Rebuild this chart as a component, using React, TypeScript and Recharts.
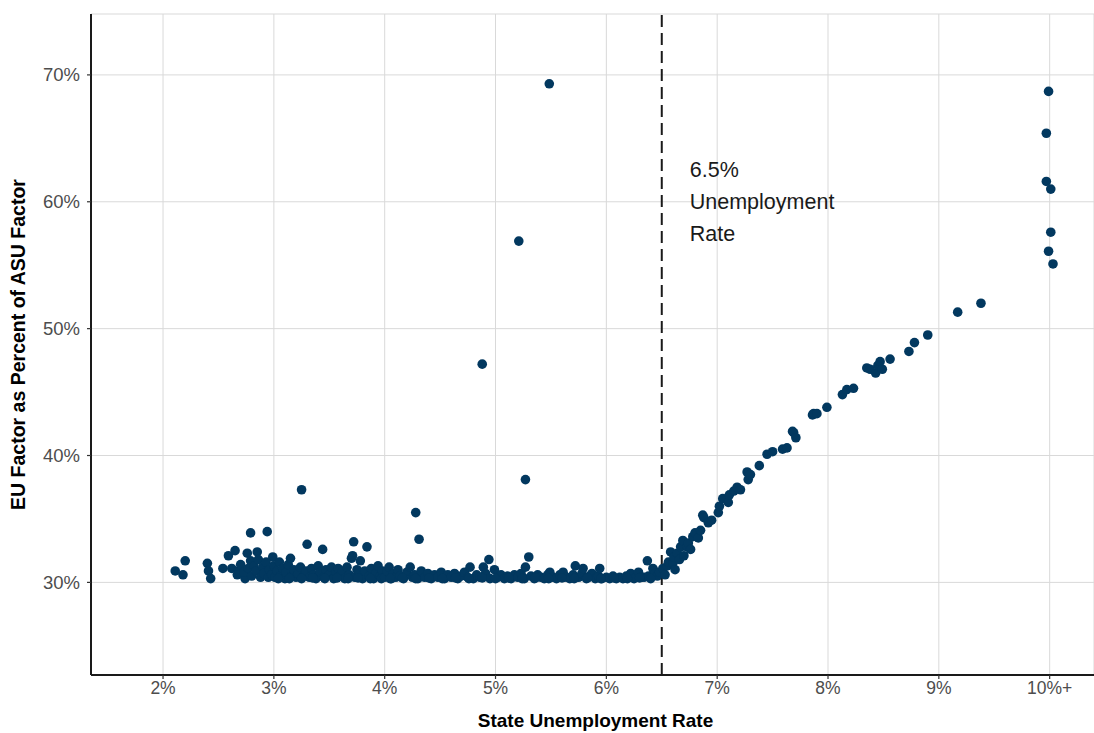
import React from 'react';
import {
  ScatterChart,
  Scatter,
  XAxis,
  YAxis,
  CartesianGrid,
  ReferenceLine,
  Label,
} from 'recharts';

// [state unemployment rate %, EU factor as % of ASU factor]
const lowRateCluster: [number, number][] = [
  [2.11, 30.9], [2.2, 31.7], [2.18, 30.6], [2.4, 31.5], [2.41, 30.9], [2.43, 30.3],
  [2.54, 31.1], [2.59, 32.1], [2.65, 32.5], [2.62, 31.1], [2.68, 30.9], [2.67, 30.6],
  [2.76, 32.3], [2.79, 31.7], [2.85, 32.4], [2.74, 30.3], [2.79, 33.9], [2.94, 34.0],
  [2.99, 32.0], [2.7, 31.4], [2.73, 30.8], [2.77, 31.1], [2.8, 30.5], [2.82, 31.3],
  [2.84, 30.9], [2.86, 31.8], [2.88, 30.4], [2.9, 31.2], [2.91, 30.7], [2.93, 31.6],
  [2.95, 30.4], [2.96, 31.0], [2.98, 30.6], [3.0, 31.3], [3.01, 30.4], [3.03, 30.9],
  [3.05, 31.6], [3.06, 30.5], [3.08, 31.1], [3.1, 30.3], [3.11, 30.8], [3.13, 31.4],
  [3.15, 31.9], [3.16, 30.5], [3.18, 31.0], [3.2, 30.4], [3.22, 30.7], [3.24, 31.2],
  [3.27, 30.5], [3.29, 30.9], [3.3, 33.0], [3.32, 30.4], [3.34, 31.1], [3.36, 30.6],
  [3.38, 30.3], [3.4, 31.3], [3.42, 30.8], [3.44, 32.6], [3.45, 30.4], [3.47, 31.0],
  [3.5, 30.6], [3.52, 31.2], [3.54, 30.3], [3.56, 30.8], [3.58, 31.1], [3.6, 30.5],
  [3.62, 30.9], [3.64, 30.3], [3.66, 31.2], [3.68, 30.6], [3.7, 31.9], [3.71, 32.1],
  [3.72, 33.2], [3.73, 30.4], [3.75, 31.0], [3.77, 30.7], [3.78, 31.7], [3.8, 30.3],
  [3.82, 30.9], [3.84, 32.8], [3.86, 30.5], [3.88, 31.1], [3.9, 30.3], [3.92, 30.7],
  [3.94, 31.3], [3.96, 30.5], [3.98, 30.9], [3.04, 30.3], [3.14, 30.3], [3.25, 30.3],
  [3.35, 30.35], [3.46, 30.3], [3.57, 30.35], [3.67, 30.3], [3.76, 30.35], [3.87, 30.3],
  [3.97, 30.3],
];

const flatBand: [number, number][] = [
  [4.0, 30.4], [4.02, 30.9], [4.04, 31.2], [4.06, 30.3], [4.08, 30.7], [4.1, 30.4],
  [4.12, 31.0], [4.14, 30.5], [4.17, 30.3], [4.2, 30.8], [4.23, 31.2], [4.25, 30.4],
  [4.27, 30.6], [4.3, 30.3], [4.33, 30.9], [4.36, 30.4], [4.39, 30.7], [4.42, 30.3],
  [4.45, 30.6], [4.48, 30.4], [4.51, 30.8], [4.54, 30.3], [4.57, 30.6], [4.6, 30.4],
  [4.63, 30.7], [4.66, 30.3], [4.69, 30.5], [4.72, 30.8], [4.75, 30.4], [4.77, 31.2],
  [4.8, 30.3], [4.83, 30.6], [4.86, 30.4], [4.89, 31.2], [4.91, 30.7], [4.94, 31.8],
  [4.95, 30.3], [4.99, 31.0], [5.02, 30.4], [5.05, 30.6], [5.08, 30.3], [5.11, 30.5],
  [5.14, 30.3], [5.17, 30.6], [5.2, 30.4], [5.23, 30.7], [5.26, 30.3], [5.27, 31.2],
  [5.3, 32.0], [5.32, 30.5], [5.35, 30.3], [5.38, 30.6], [5.41, 30.4], [5.44, 30.3],
  [5.47, 30.6], [5.49, 30.8], [5.52, 30.4], [5.55, 30.3], [5.58, 30.6], [5.61, 30.8],
  [5.64, 30.4], [5.67, 30.3], [5.7, 30.6], [5.72, 31.3], [5.75, 30.4], [5.78, 30.7],
  [5.79, 31.1], [5.82, 30.3], [5.85, 30.5], [5.87, 30.7], [5.9, 30.3], [5.93, 30.5],
  [5.94, 31.1], [5.96, 30.3], [6.0, 30.4], [6.03, 30.3], [6.06, 30.5], [6.09, 30.3],
  [6.12, 30.4], [6.15, 30.3], [6.18, 30.5], [6.22, 30.7], [6.25, 30.3], [6.29, 30.8],
  [6.31, 30.4], [6.34, 30.4], [6.37, 31.7], [6.38, 30.5], [6.42, 31.1], [6.43, 30.9],
  [6.44, 30.7], [6.46, 30.5], [4.05, 30.3], [4.16, 30.35], [4.28, 30.3], [4.4, 30.35],
  [4.52, 30.3], [4.64, 30.35], [4.76, 30.3], [4.88, 30.35], [5.0, 30.3], [5.12, 30.35],
  [5.24, 30.3], [5.36, 30.35], [5.48, 30.3], [5.6, 30.35], [5.71, 30.3], [5.83, 30.35],
  [5.95, 30.3], [6.07, 30.35], [6.19, 30.3], [6.3, 30.35], [6.4, 30.3],
];

const outlierPoints: [number, number][] = [
  [5.485, 69.3], [5.21, 56.9], [4.88, 47.2], [5.27, 38.1], [3.25, 37.3],
  [4.28, 35.5], [4.31, 33.4],
];

const risingPoints: [number, number][] = [
  [6.48, 30.8], [6.51, 31.1], [6.53, 30.6], [6.55, 31.3], [6.56, 31.6], [6.58, 32.4],
  [6.6, 31.5], [6.61, 32.0], [6.62, 31.0], [6.64, 32.3], [6.66, 31.8], [6.67, 32.8],
  [6.69, 33.3], [6.7, 32.1], [6.73, 32.8], [6.74, 33.1], [6.76, 32.6], [6.78, 33.6],
  [6.8, 33.9], [6.83, 33.5], [6.85, 34.1], [6.87, 35.3], [6.88, 35.1], [6.92, 34.7],
  [6.95, 34.9], [7.01, 35.5], [7.02, 36.0], [7.05, 36.6], [7.1, 36.3], [7.11, 36.9],
  [7.15, 37.2], [7.18, 37.5], [7.21, 37.3], [7.27, 38.7], [7.28, 38.1], [7.3, 38.5],
  [7.38, 39.2], [7.45, 40.1], [7.5, 40.3], [7.59, 40.5], [7.63, 40.6], [7.68, 41.9],
  [7.69, 41.8], [7.71, 41.4], [7.86, 43.2], [7.87, 43.3], [7.9, 43.3], [7.99, 43.8],
  [8.13, 44.8], [8.17, 45.2], [8.23, 45.3], [8.35, 46.9], [8.38, 46.8], [8.43, 46.5],
  [8.45, 47.1], [8.47, 47.4], [8.49, 46.8], [8.56, 47.6], [8.73, 48.2], [8.78, 48.9],
  [8.9, 49.5], [9.17, 51.3], [9.38, 52.0],
];

const cappedPoints: [number, number][] = [
  [9.99, 68.7], [9.97, 65.4], [9.97, 61.6], [10.01, 61.0], [10.01, 57.6],
  [9.99, 56.1], [10.03, 55.1],
];

const xTicks = [2, 3, 4, 5, 6, 7, 8, 9, 10];
const yTicks = [30, 40, 50, 60, 70];
const thresholdRate = 6.5;
const annotationLines = ['6.5%', 'Unemployment', 'Rate'];

const DOT = '#02385f';
const FONT = '"Liberation Sans", Arial, sans-serif';

const data = [
  ...lowRateCluster,
  ...flatBand,
  ...outlierPoints,
  ...risingPoints,
  ...cappedPoints,
].map(([x, y]) => ({ x, y }));

const fmtX = (v: number) => (v === 10 ? '10%+' : `${v}%`);
const fmtY = (v: number) => `${v}%`;

export default function App() {
  return (
    <div style={{ position: 'absolute', left: 0, top: 0, background: '#fff' }}>
      <ScatterChart
        width={1094}
        height={733}
        margin={{ top: 14, right: 0, bottom: 0, left: 0 }}
      >
        <CartesianGrid stroke="#d9d9d9" strokeWidth={1} />
        <XAxis
          type="number"
          dataKey="x"
          domain={[1.35, 10.4]}
          ticks={xTicks}
          tickFormatter={fmtX}
          allowDataOverflow
          height={58}
          tickSize={4}
          tickMargin={3}
          axisLine={{ stroke: '#1a1a1a', strokeWidth: 2 }}
          tickLine={{ stroke: '#333', strokeWidth: 1.2 }}
          tick={{ fill: '#4d4d4d', fontSize: 17.5, fontFamily: FONT }}
        >
          <Label
            content={(p: any) => {
              const vb = p.viewBox;
              return (
                <text
                  x={vb.x + vb.width / 2 + 3}
                  y={vb.y + 45}
                  textAnchor="middle"
                  dominantBaseline="central"
                  fontFamily={FONT}
                  fontWeight="bold"
                  fontSize={19}
                  fill="#000"
                >
                  State Unemployment Rate
                </text>
              );
            }}
          />
        </XAxis>
        <YAxis
          type="number"
          dataKey="y"
          domain={[22.7, 74.8]}
          ticks={yTicks}
          tickFormatter={fmtY}
          allowDataOverflow
          width={91}
          tickSize={4}
          tickMargin={7}
          axisLine={{ stroke: '#1a1a1a', strokeWidth: 2 }}
          tickLine={{ stroke: '#333', strokeWidth: 1.2 }}
          tick={{ fill: '#4d4d4d', fontSize: 18.5, fontFamily: FONT }}
        >
          <Label
            content={(p: any) => {
              const vb = p.viewBox;
              const cy = vb.y + vb.height / 2;
              return (
                <text
                  x={18}
                  y={cy}
                  transform={`rotate(-90 18 ${cy})`}
                  textAnchor="middle"
                  dominantBaseline="central"
                  fontFamily={FONT}
                  fontWeight="bold"
                  fontSize={19.5}
                  fill="#000"
                >
                  EU Factor as Percent of ASU Factor
                </text>
              );
            }}
          />
        </YAxis>
        <ReferenceLine
          x={thresholdRate}
          stroke="#1a1a1a"
          strokeWidth={2}
          strokeDasharray="12 6"
          label={(p: any) => {
            const vb = p.viewBox;
            return (
              <g>
                {annotationLines.map((t, i) => (
                  <text
                    key={t}
                    x={vb.x + 28}
                    y={170 + i * 32}
                    dominantBaseline="central"
                    fontFamily={FONT}
                    fontSize={21.5}
                    fill="#1a1a1a"
                  >
                    {t}
                  </text>
                ))}
              </g>
            );
          }}
        />
        <Scatter
          data={data}
          isAnimationActive={false}
          shape={(p: any) => <circle cx={p.cx} cy={p.cy} r={4.8} fill={DOT} />}
        />
      </ScatterChart>
    </div>
  );
}
